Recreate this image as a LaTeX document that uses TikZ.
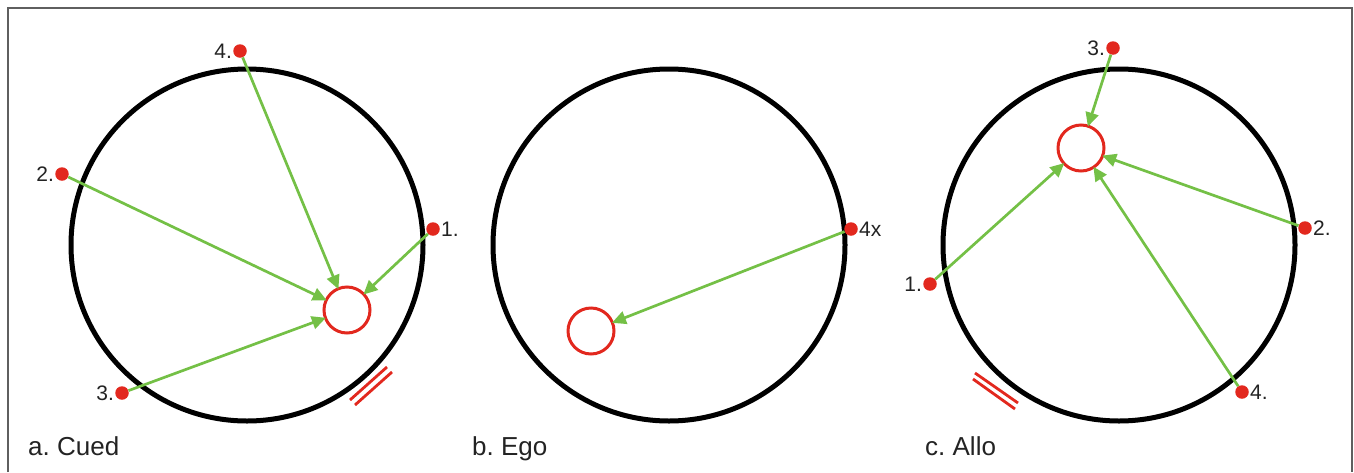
\documentclass[tikz,border=0pt]{standalone}
\usepackage{fontspec}
\setmainfont{Liberation Sans}
\usetikzlibrary{arrows.meta}
\definecolor{dotred}{RGB}{226,40,30}
\definecolor{arrgreen}{RGB}{116,192,70}
\definecolor{framegray}{RGB}{95,95,95}
\definecolor{txt}{RGB}{35,35,35}
\tikzset{
  bigring/.style={circle, draw=black, line width=5pt, minimum size=352pt, inner sep=0pt},
  target/.style={circle, draw=dotred, line width=3pt, minimum size=46pt, inner sep=0pt},
  reddot/.style={circle, fill=dotred, minimum size=13.5pt, inner sep=0pt},
  arr/.style={draw=arrgreen, line width=2.7pt, -{Triangle[length=14pt, width=13pt]}, arrgreen, shorten >=-2pt},
  tick/.style={draw=dotred, line width=2.8pt},
  num/.style={text=txt, font=\fontsize{21}{24}\selectfont, inner sep=1pt},
  caption/.style={text=txt, font=\fontsize{26}{29}\selectfont, anchor=base west, inner sep=0pt},
}
\begin{document}
\frenchspacing
\begin{tikzpicture}[x=1pt, y=-1pt]
\useasboundingbox (0,0) rectangle (1354,472);
% frame
\draw[framegray, line width=1.6pt] (8,472) -- (8,8) -- (1352,8) -- (1352,472);

% panel a
\node[bigring] (ringa) at (247,245) {};
\node[target] (ta) at (347,310) {};
\node[reddot] (a4) at (240,51) {};
\node[reddot] (a2) at (62,174) {};
\node[reddot] (a1) at (433,229) {};
\node[reddot] (a3) at (122,393) {};
\node[num, anchor=east] (la4) at (a4.west) {4.};
\node[num, anchor=east] (la2) at (a2.west) {2.};
\node[num, anchor=west] (la1) at (a1.east) {1.};
\node[num, anchor=east] (la3) at (a3.west) {3.};
\draw[arr] (a4) -- (ta);
\draw[arr] (a2) -- (ta);
\draw[arr] (a1) -- (ta);
\draw[arr] (a3) -- (ta);
\draw[tick] (350,400) -- (387,367);
\draw[tick] (355,405) -- (392,372);
\node[caption] (capa) at (28,455) {a. Cued};

% panel b
\node[bigring] (ringb) at (669,245) {};
\node[target] (tb) at (591,331) {};
\node[reddot] (b4) at (851,229) {};
\node[num, anchor=west] (lb4) at (b4.east) {4x};
\draw[arr] (b4) -- (tb);
\node[caption] (capb) at (472,455) {b. Ego};

% panel c
\node[bigring] (ringc) at (1119,245) {};
\node[target] (tc) at (1081,148) {};
\node[reddot] (c3) at (1113,48) {};
\node[reddot] (c2) at (1305,228) {};
\node[reddot] (c1) at (930,284) {};
\node[reddot] (c4) at (1242,392) {};
\node[num, anchor=east] (lc3) at (c3.west) {3.};
\node[num, anchor=west] (lc2) at (c2.east) {2.};
\node[num, anchor=east] (lc1) at (c1.west) {1.};
\node[num, anchor=west] (lc4) at (c4.east) {4.};
\draw[arr] (c3) -- (tc);
\draw[arr] (c2) -- (tc);
\draw[arr] (c1) -- (tc);
\draw[arr] (c4) -- (tc);
\draw[tick] (975,373) -- (1018,403);
\draw[tick] (973,379) -- (1015,409);
\node[caption] (capc) at (925,455) {c. Allo};
\end{tikzpicture}
\end{document}
